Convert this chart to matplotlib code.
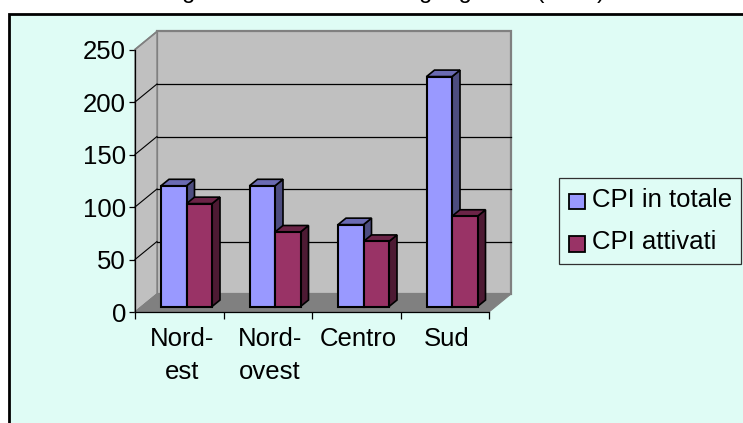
import matplotlib
matplotlib.use("Agg")
import matplotlib.pyplot as plt
from matplotlib.patches import Polygon, Rectangle

plt.rcParams['font.family'] = ['Liberation Sans', 'DejaVu Sans']

categories = ["Nord-\nest", "Nord-\novest", "Centro", "Sud"]
series_names = ["CPI in totale", "CPI attivati"]
totale = [115, 115, 78, 219]
attivati = [98, 71, 62, 86]
yticks = [0, 50, 100, 150, 200, 250]
title = "Regioni e CPI della zona geografica (2004)"

W, H = 743, 423
fig = plt.figure(figsize=(W/100, H/100), dpi=100, facecolor="white")
BG = "#dffcf5"
FS = 18.5

def fig_box(x0, y0, x1, y1):
    return [x0/W, 1-y1/H, (x1-x0)/W, (y1-y0)/H]

# background frame
fig.patches.append(Rectangle((9/W, 1-440/H), 800/W, (440-14)/H, transform=fig.transFigure,
                             fc=BG, ec="black", lw=2, zorder=-5))

ax = fig.add_axes(fig_box(135, 49.5, 489, 312), zorder=2)
ax.set_xlim(0, 4)
ax.set_ylim(0, 250)
ax.patch.set_alpha(0)
for s in ax.spines.values():
    s.set_visible(False)

# depth in data units
dx = 22 / (354 / 4)
dy = 18 / (262.5 / 250)

# walls
ax.add_patch(Polygon([(dx, dy), (4+dx, dy), (4+dx, 250+dy), (dx, 250+dy)], closed=True,
                     fc="#c0c0c0", ec="#808080", lw=1.6, clip_on=False, zorder=1))
ax.add_patch(Polygon([(0, 0), (dx, dy), (dx, 250+dy), (0, 250)], closed=True,
                     fc="#c0c0c0", ec="#808080", lw=1.0, clip_on=False, zorder=1))
ax.add_patch(Polygon([(0, 0), (4, 0), (4+dx, dy), (dx, dy)], closed=True,
                     fc="#808080", ec="#808080", lw=0.8, clip_on=False, zorder=1))

# gridlines on back and side walls
for t in yticks[1:-1]:
    ax.plot([dx, 4+dx], [t+dy, t+dy], color="black", lw=0.9, clip_on=False, zorder=2)
for t in yticks[:-1]:
    ax.plot([0, dx], [t, t+dy], color="black" if t else "#808080", lw=0.8, clip_on=False, zorder=2)
ax.plot([0, dx], [250, 250+dy], color="#808080", lw=1.2, clip_on=False, zorder=2)

# bars
bw = 25.5 / (354 / 4)
start = 26 / (354 / 4)
bar_dx = 8 / (354 / 4)
bar_dy = 6.5 / (262.5 / 250)
base = 5.2

def bar3d(x, v, front, top, side, z):
    y1 = base + v
    ax.add_patch(Polygon([(x+bw, base), (x+bw+bar_dx, base+bar_dy), (x+bw+bar_dx, y1+bar_dy), (x+bw, y1)],
                         closed=True, fc=side, ec="black", lw=1.2, clip_on=False, zorder=z))
    ax.add_patch(Polygon([(x, y1), (x+bw, y1), (x+bw+bar_dx, y1+bar_dy), (x+bar_dx, y1+bar_dy)],
                         closed=True, fc=top, ec="black", lw=1.2, clip_on=False, zorder=z))
    ax.bar([x], [v], width=bw, bottom=base, align="edge", color=front, edgecolor="black",
           linewidth=1.5, clip_on=False, zorder=z)

for i, (a, b) in enumerate(zip(totale, attivati)):
    bar3d(i + start, a, "#9999ff", "#6b6bb3", "#4d4d80", 3 + 2*i)
    bar3d(i + start + bw, b, "#993366", "#6b2447", "#4d1a33", 4 + 2*i)

# axes lines and ticks
ax.plot([0, 0], [0, 250], color="black", lw=0.9, clip_on=False, zorder=20)
ax.plot([0, 4], [0, 0], color="black", lw=0.9, clip_on=False, zorder=20)
ax.set_yticks(yticks)
ax.set_xticks(range(5))
ax.set_xticklabels([])
ax.tick_params(axis="y", length=4.5, width=0.9, labelsize=FS, pad=2, color="black")
ax.tick_params(axis="x", length=5, width=0.9, color="black")
for i, c in enumerate(categories):
    ax.annotate(c, xy=(i+0.5, 0), xycoords="data", xytext=(1.7, -11), textcoords="offset points",
                ha="center", va="top", fontsize=FS, linespacing=1.47)

# title (cropped at the top of the image, as in the reference)
fig.text(605/W, 1+2/H, title, ha="right", va="baseline", fontsize=17)

# legend
lx0, ly0, lx1, ly1 = 559, 178, 741, 264
fig.patches.append(Rectangle((lx0/W, 1-ly1/H), (lx1-lx0)/W, (ly1-ly0)/H, transform=fig.transFigure,
                             fc=BG, ec="#303030", lw=0.9, zorder=-4))
for name, col, yc in zip(series_names, ["#9999ff", "#993366"], [202, 244]):
    fig.patches.append(Rectangle((569/W, 1-(yc+7.5)/H), 15.5/W, 15.5/H, transform=fig.transFigure,
                                 fc=col, ec="black", lw=1.3, zorder=-3))
    fig.text(592/W, 1-(yc+5)/H, name, ha="left", va="baseline", fontsize=FS)

fig.savefig("out.png", dpi=100, facecolor="white")
